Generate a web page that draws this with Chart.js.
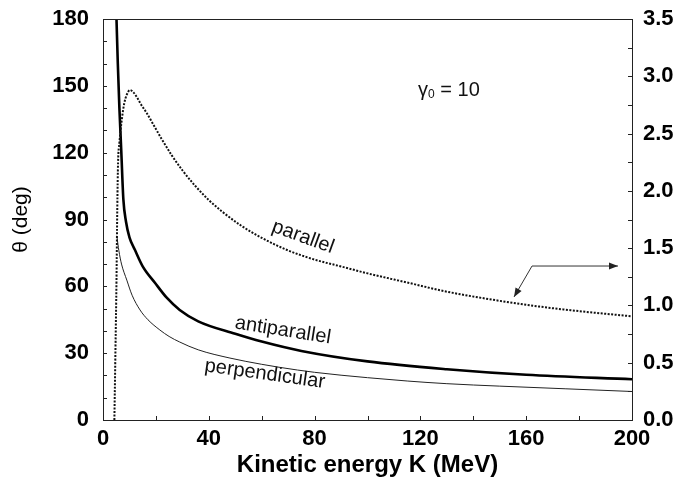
<!DOCTYPE html>
<html><head><meta charset="utf-8">
<script src="https://cdn.jsdelivr.net/npm/chart.js@4/dist/chart.umd.min.js"></script>
<style>html,body{margin:0;padding:0;background:#fff}</style>
</head><body>
<canvas id="c" width="685" height="487"></canvas>
<script>
// ---- data ----
// parallel curve, plotted against right axis
const parallelK = [4.3, 4.7, 5.1, 5.4, 5.7, 6.2, 7.1, 8.0, 9.0, 10.2, 11.5, 13, 14.5, 16.5, 19, 22, 26, 30, 35, 40, 45, 52, 60, 70, 80, 90, 100, 115, 130, 150, 165, 180, 200];
const parallelValue = [0, 0.6, 1.22, 1.85, 2.25, 2.42, 2.62, 2.76, 2.84, 2.88, 2.86, 2.81, 2.75, 2.68, 2.58, 2.46, 2.31, 2.18, 2.04, 1.92, 1.82, 1.70, 1.59, 1.48, 1.40, 1.34, 1.28, 1.20, 1.12, 1.04, 0.99, 0.95, 0.905];
// antiparallel curve, theta (deg)
const antiK = [5.1, 5.6, 6.2, 6.9, 7.7, 8.7, 10, 12.1, 15, 19.7, 24, 29, 36, 50, 60, 75, 100, 130, 160, 200];
const antiTheta = [180, 160, 140, 121, 99, 89, 82, 76.3, 69, 61.5, 55, 49.4, 44.3, 38.7, 35.2, 31, 26.3, 22.8, 20.3, 18.3];
// perpendicular curve, theta (deg)
const perpK = [5.3, 6.0, 7.0, 9.0, 11, 14, 17, 21.5, 25, 29, 36, 48, 60, 67, 80, 100, 115, 130, 150, 175, 200];
const perpTheta = [82, 76, 70, 62.8, 56, 49.4, 45, 40.4, 37.5, 35, 31.5, 27.8, 25, 23.6, 21.4, 19, 17.5, 16.3, 15.2, 14, 12.8];
// axis ticks
const xTicks = [0, 40, 80, 120, 160, 200];
const yLeftTicks = [0, 30, 60, 90, 120, 150, 180];
const yRightTicks = [0.0, 0.5, 1.0, 1.5, 2.0, 2.5, 3.0, 3.5];

// ---- annotation placement (data coordinates) ----
const curveLabels = [
  {text: 'parallel', x: 75.6, y: 82.1, rot: 20},
  {text: 'antiparallel', x: 68, y: 40.2, rot: 9},
  {text: 'perpendicular', x: 61.2, y: 20.6, rot: 8}
];
const gammaLabel = {x: 130.8, y: 148.1};
const arrowPath = [{x: 155.4, y: 1.074}, {x: 162.2, y: 1.344}, {x: 194.7, y: 1.344}];

const FAM = "'Liberation Sans', Arial, Helvetica, sans-serif";
const tickFont = {family: FAM, size: 22, weight: 'bold'};

function pts(xs, ys) { return xs.map((x, i) => ({x: x, y: ys[i]})); }

const framePlugin = {
  id: 'frame',
  afterDatasetsDraw(chart) {
    const ctx = chart.ctx, a = chart.chartArea;
    const sx = chart.scales.x, sy = chart.scales.y, sy1 = chart.scales.y1;
    ctx.save();
    ctx.strokeStyle = '#222';
    ctx.lineWidth = 1;
    ctx.strokeRect(Math.round(a.left) + 0.5, Math.round(a.top) + 0.5, Math.round(a.right - a.left), Math.round(a.bottom - a.top));
    // inward minor ticks
    ctx.beginPath();
    for (let v = 0; v <= 200; v += 20) {
      const px = Math.round(sx.getPixelForValue(v)) + 0.5;
      ctx.moveTo(px, a.bottom); ctx.lineTo(px, a.bottom - 4);
    }
    for (let v = 0; v <= 180; v += 10) {
      const py = Math.round(sy.getPixelForValue(v)) + 0.5;
      ctx.moveTo(a.left, py); ctx.lineTo(a.left + 4, py);
    }
    for (let v = 0; v <= 3.5001; v += 0.25) {
      const py = Math.round(sy1.getPixelForValue(v)) + 0.5;
      ctx.moveTo(a.right, py); ctx.lineTo(a.right - 4, py);
    }
    ctx.stroke();

    // curve labels
    ctx.fillStyle = '#111';
    ctx.font = '20px ' + FAM;
    ctx.textAlign = 'center';
    ctx.textBaseline = 'middle';
    curveLabels.forEach(l => {
      const px = sx.getPixelForValue(l.x), py = sy.getPixelForValue(l.y);
      ctx.save();
      ctx.translate(px, py);
      ctx.rotate(l.rot * Math.PI / 180);
      ctx.fillText(l.text, 0, 0);
      ctx.restore();
    });

    // gamma_0 = 10
    const gx = sx.getPixelForValue(gammaLabel.x), gy = sy.getPixelForValue(gammaLabel.y);
    ctx.textAlign = 'left';
    ctx.font = '20px ' + FAM;
    const w1 = ctx.measureText('\u03B3').width;
    ctx.font = '12px ' + FAM;
    const w2 = ctx.measureText('0').width;
    ctx.font = '20px ' + FAM;
    const w3 = ctx.measureText(' = 10').width;
    let cx = gx - (w1 + w2 + w3) / 2;
    ctx.fillText('\u03B3', cx, gy); cx += w1;
    ctx.font = '12px ' + FAM;
    ctx.fillText('0', cx, gy + 5); cx += w2;
    ctx.font = '20px ' + FAM;
    ctx.fillText(' = 10', cx, gy);

    // arrow
    const p = arrowPath.map(q => ({x: sx.getPixelForValue(q.x), y: sy1.getPixelForValue(q.y)}));
    ctx.strokeStyle = '#333';
    ctx.lineWidth = 1;
    ctx.beginPath();
    ctx.moveTo(p[0].x, p[0].y);
    for (let i = 1; i < p.length; i++) ctx.lineTo(p[i].x, p[i].y);
    ctx.stroke();
    function head(tip, from) {
      const ang = Math.atan2(tip.y - from.y, tip.x - from.x);
      const L = 9, W = 3.5;
      ctx.beginPath();
      ctx.moveTo(tip.x, tip.y);
      ctx.lineTo(tip.x - L * Math.cos(ang) + W * Math.sin(ang), tip.y - L * Math.sin(ang) - W * Math.cos(ang));
      ctx.lineTo(tip.x - L * Math.cos(ang) - W * Math.sin(ang), tip.y - L * Math.sin(ang) + W * Math.cos(ang));
      ctx.closePath();
      ctx.fillStyle = '#222';
      ctx.fill();
    }
    head(p[0], p[1]);
    head(p[2], p[1]);
    ctx.restore();
  }
};

new Chart(document.getElementById('c'), {
  type: 'line',
  data: {
    datasets: [
      {label: 'parallel', data: pts(parallelK, parallelValue), yAxisID: 'y1', borderColor: '#111', borderWidth: 2, borderDash: [2, 1.5], pointRadius: 0, cubicInterpolationMode: 'monotone', fill: false},
      {label: 'antiparallel', data: pts(antiK, antiTheta), yAxisID: 'y', borderColor: '#000', borderWidth: 2.6, pointRadius: 0, cubicInterpolationMode: 'monotone', fill: false},
      {label: 'perpendicular', data: pts(perpK, perpTheta), yAxisID: 'y', borderColor: '#222', borderWidth: 1, pointRadius: 0, cubicInterpolationMode: 'monotone', fill: false}
    ]
  },
  options: {
    responsive: false,
    animation: false,
    devicePixelRatio: 1,
    layout: {padding: {top: 19, left: 0, right: 0, bottom: 0}},
    plugins: {legend: {display: false}, tooltip: {enabled: false}},
    scales: {
      x: {
        type: 'linear', min: 0, max: 200,
        afterBuildTicks(s) { s.ticks = xTicks.map(v => ({value: v})); },
        ticks: {font: tickFont, color: '#000', padding: 6, maxRotation: 0, autoSkip: false},
        grid: {display: false, drawTicks: false},
        border: {display: false},
        title: {display: true, text: 'Kinetic energy K (MeV)', color: '#000', font: {family: FAM, size: 24, weight: 'bold'}, padding: {top: 4, bottom: 7}},
        afterFit(s) { s.height = 67; s.paddingLeft = 0; s.paddingRight = 0; }
      },
      y: {
        type: 'linear', position: 'left', min: 0, max: 180,
        afterBuildTicks(s) { s.ticks = yLeftTicks.map(v => ({value: v})); },
        ticks: {font: tickFont, color: '#000', padding: 14, autoSkip: false},
        grid: {display: false, drawTicks: false},
        border: {display: false},
        title: {display: true, text: '\u03B8 (deg)', color: '#000', font: {family: FAM, size: 21}, padding: {top: 9, bottom: 4}},
        afterFit(s) { s.width = 103; s.paddingTop = 0; s.paddingBottom = 0; }
      },
      y1: {
        type: 'linear', position: 'right', min: 0, max: 3.5,
        afterBuildTicks(s) { s.ticks = yRightTicks.map(v => ({value: v})); },
        ticks: {font: tickFont, color: '#000', padding: 11, autoSkip: false, callback: v => Number(v).toFixed(1)},
        grid: {display: false, drawTicks: false},
        border: {display: false},
        afterFit(s) { s.width = 53; s.paddingTop = 0; s.paddingBottom = 0; }
      }
    }
  },
  plugins: [framePlugin]
});
</script>
</body></html>
